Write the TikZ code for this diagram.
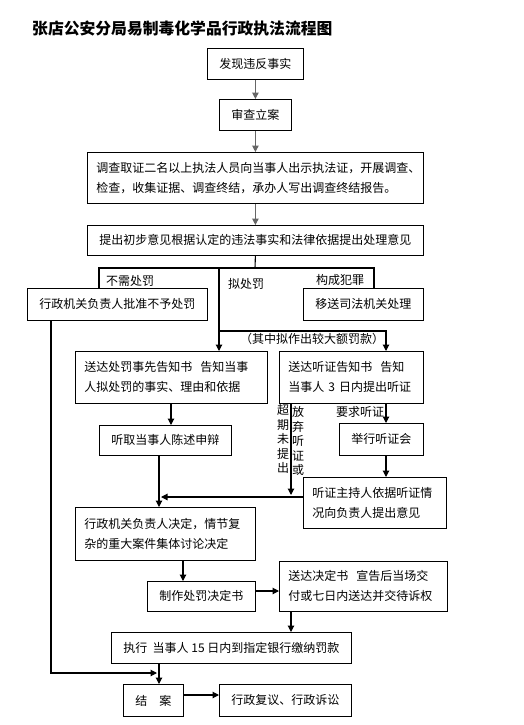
\documentclass[tikz,border=0pt]{standalone}
\usepackage{fontspec}
\setmainfont{Noto Sans CJK SC}
\newfontfamily\cjk{Noto Sans CJK SC}
\usetikzlibrary{arrows.meta}
\tikzset{
  box/.style={draw=black, line width=0.8pt, inner sep=0pt, anchor=north west,
    font=\cjk\fontsize{12pt}{20pt}\selectfont, align=center},
  lbox/.style={box, inner xsep=9pt, align=left},
  conn/.style={draw=black, line width=1.1pt},
  arr/.style={conn, -{Triangle[width=6.5pt,length=6.5pt]}},
  garr/.style={arr, draw=black!60},
  lab/.style={font=\cjk\fontsize{12pt}{14.5pt}\selectfont, inner sep=0pt, align=center}
}
\begin{document}
\begin{tikzpicture}[x=1pt,y=-1pt]
\useasboundingbox[fill=white] (0,0) rectangle (524,725);
% title
\node[anchor=west, inner sep=0pt, font=\cjk\bfseries\fontsize{15.8pt}{18pt}\selectfont] (title) at (32,28) {张店公安分局易制毒化学品行政执法流程图};
% boxes
\node[box, minimum width=96pt, minimum height=31pt] (b1) at (207,48) {发现违反事实};
\node[box, minimum width=72pt, minimum height=31pt] (b2) at (219,99) {审查立案};
\node[lbox, text width=318pt, minimum height=51pt] (b3) at (87,152) {调查取证二名以上执法人员向当事人出示执法证，开展调查、\\检查，收集证据、调查终结，承办人写出调查终结报告。};
\node[box, minimum width=336pt, minimum height=30pt] (b4) at (87,225) {提出初步意见根据认定的违法事实和法律依据提出处理意见};
\node[box, minimum width=180pt, minimum height=32pt] (b5) at (27,288) {行政机关负责人批准不予处罚};
\node[box, minimum width=120pt, minimum height=32pt] (b6) at (303,288) {移送司法机关处理};
\node[lbox, text width=174pt, minimum height=52pt] (b7) at (75,351) {送达处罚事先告知书\ \ 告知当事\\人拟处罚的事实、理由和依据};
\node[lbox, text width=126pt, minimum height=52pt] (b8) at (279,351) {送达听证告知书\ \ 告知\\当事人 3 日内提出听证};
\node[box, minimum width=132pt, minimum height=30pt] (b9) at (99,425) {听取当事人陈述申辩};
\node[box, minimum width=84pt, minimum height=32pt] (b10) at (339,423) {举行听证会};
\node[lbox, text width=125pt, minimum height=51pt] (b11) at (303,477) {听证主持人依据听证情\\况向负责人提出意见};
\node[lbox, text width=162pt, minimum height=53pt] (b12) at (75,507) {行政机关负责人决定，情节复\\杂的重大案件集体讨论决定};
\node[box, minimum width=108pt, minimum height=30pt] (b13) at (147,581) {制作处罚决定书};
\node[lbox, text width=150pt, minimum height=50pt] (b14) at (279,561) {送达决定书\ \ 宣告后当场交\\付或七日内送达并交待诉权};
\node[box, minimum width=240pt, minimum height=31pt] (b15) at (111,632) {执行\ \ 当事人 15 日内到指定银行缴纳罚款};
\node[box, minimum width=60pt, minimum height=32pt] (b16) at (123,684) {结\quad 案};
\node[box, minimum width=132pt, minimum height=32pt] (b17) at (219,684) {行政复议、行政诉讼};
% labels
\node[lab] (l1) at (130,281) {不需处罚};
\node[lab] (l2) at (246,284) {拟处罚};
\node[lab] (l3) at (340,280) {构成犯罪};
\node[lab] (l4) at (312,339) {（其中拟作出较大额罚款）};
\node[lab] (l5) at (360,412) {要求听证};
\node[lab] (l6) at (283,439) {超\\期\\未\\提\\出};
\node[lab] (l7) at (298,441) {放\\弃\\听\\证\\或};
% coordinates
\coordinate (j0) at (255,268);
\coordinate (jl) at (99,268);
\coordinate (jr) at (374,268);
\coordinate (jm) at (219,268);
\coordinate (k1) at (219,331);
\coordinate (k2) at (386,331);
\coordinate (h1) at (161,497);
\coordinate (h2) at (291,495);
\coordinate (p1) at (51,673);
\coordinate (p2) at (157,673);
% connectors
\draw[garr] (b1.south) -- (b2.north);
\draw[garr] (b2.south) -- (b3.north);
\draw[garr] (b3.south) -- (b4.north);
\draw[conn] (b4.south) -- (j0);
\draw[conn] (jl |- b5.north) -- (jl) -- (jr) -- (jr |- b6.north);
\draw[conn] (jm) -- (k1);
\draw[arr] (k1) -- (k1 |- b7.north);
\draw[arr] (k1) -- (k2) -- (k2 |- b8.north);
\draw[arr] (171,403) -- (171,425);
\draw[arr] (b9.south -| 159,0) -- (159,507);
\draw[arr] (b11.west |- h1) -- (h1);
\draw[arr] (291,403) -- (h2);
\draw[arr] (386,403) -- (b10.north -| 386,0);
\draw[arr] (b10.south -| 386,0) -- (b11.north -| 386,0);
\draw[arr] (183,560) -- (b13.north -| 183,0);
\draw[arr] (255,591) -- (279,591);
\draw[arr] (291,611) -- (b15.north -| 291,0);
\draw[arr] (159,663) -- (b16.north -| 159,0);
\draw[arr] (51,320) -- (p1) -- (p2);
\draw[arr] (183,695) -- (219,695);
\end{tikzpicture}
\end{document}
